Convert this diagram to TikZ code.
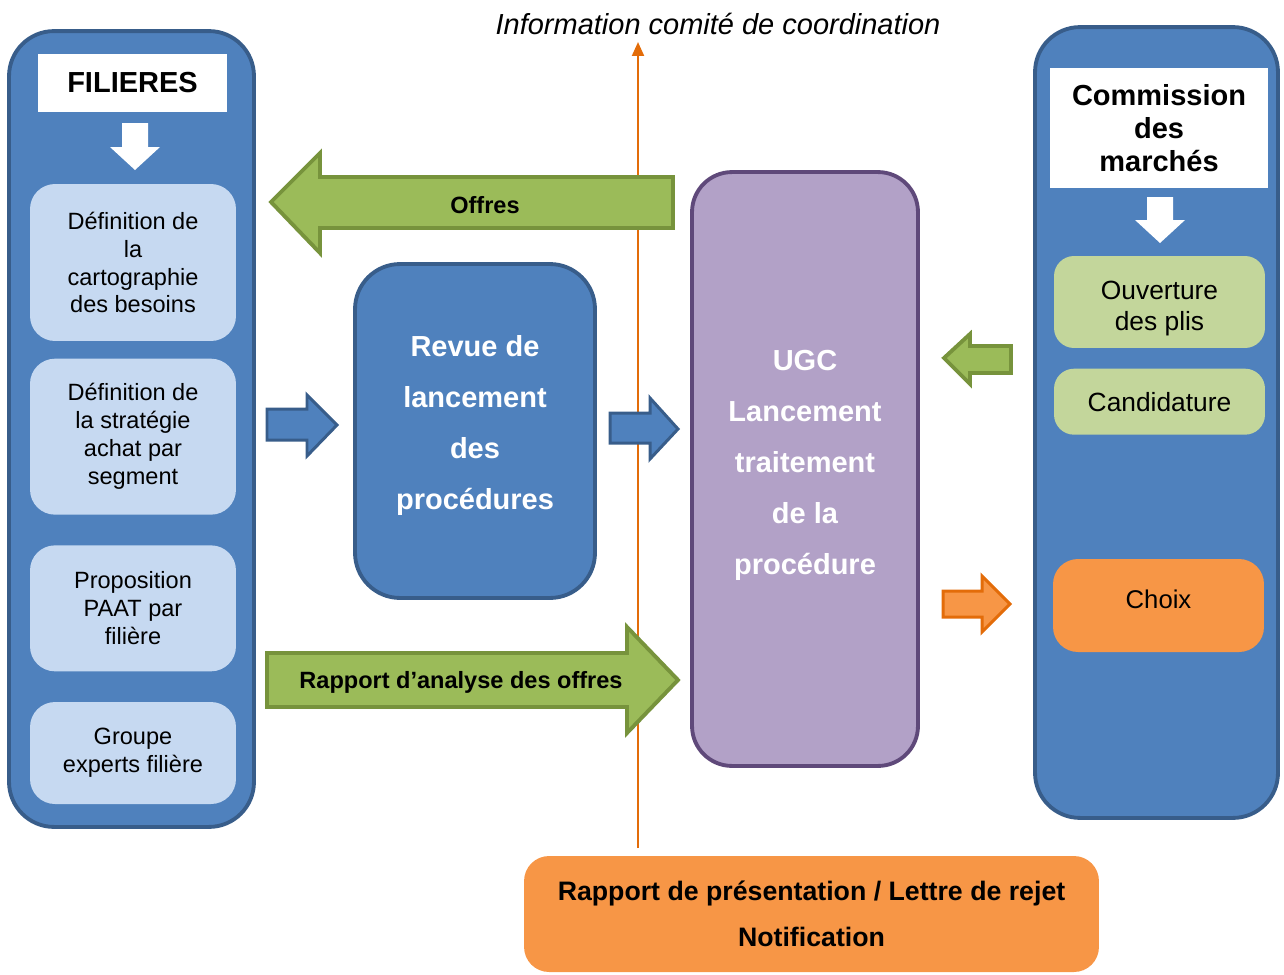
\documentclass[tikz,border=0pt]{standalone}
\usepackage{fontspec}
\setmainfont{Liberation Sans}
\usetikzlibrary{positioning,arrows.meta}
\definecolor{ublue}{HTML}{4F81BD}
\definecolor{ubluedk}{HTML}{385D8A}
\definecolor{lblue}{HTML}{C6D9F1}
\definecolor{ugreen}{HTML}{9BBB59}
\definecolor{ugreendk}{HTML}{77933C}
\definecolor{lgreen}{HTML}{C3D69B}
\definecolor{upurple}{HTML}{B2A1C7}
\definecolor{upurpledk}{HTML}{5F497A}
\definecolor{uorange}{HTML}{F79646}
\definecolor{uorangedk}{HTML}{E36C09}
\tikzset{frame/.style={rectangle, rounded corners=9mm, draw=ubluedk, fill=ublue, line width=2.2pt, inner sep=0pt}}
\tikzset{headbox/.style={rectangle, fill=white, inner sep=0pt, align=center, font=\fontsize{16.5}{18.7}\selectfont\bfseries}}
\tikzset{bigbox/.style={rectangle, line width=2.2pt, inner sep=0pt, align=center, text=white, font=\fontsize{16.5}{29}\selectfont\bfseries}}

\begin{document}
\begin{tikzpicture}[
  x=0.02cm, y=-0.02cm,
  node distance=3mm and 3mm,
  sbox/.style={rectangle, rounded corners=5mm, fill=lblue, inner sep=0pt, minimum width=4.12cm,
               align=center, font=\fontsize{13.4}{15.9}\selectfont},
  gbox/.style={rectangle, rounded corners=4mm, fill=lgreen, inner sep=0pt, minimum width=4.22cm,
               align=center, font=\fontsize{15}{17.6}\selectfont},
  obox/.style={rectangle, rounded corners=5mm, fill=uorange, inner sep=0pt, align=center},
  blockb/.style={fill=ublue, draw=ubluedk, line width=1.7pt},
  blockg/.style={fill=ugreen, draw=ugreendk, line width=2.2pt},
  blocko/.style={fill=uorange, draw=uorangedk, line width=1.7pt},
  wdown/.style={fill=white, draw=none},
  lbl/.style={font=\fontsize{13.4}{16}\selectfont\bfseries},
  infoline/.style={draw=uorangedk, line width=1.2pt, -{Triangle[length=2.8mm, width=2.4mm]}},
]
  \useasboundingbox (0,0) rectangle (1284,974);

  % left column
  \node[frame, minimum width=4.9cm, minimum height=15.92cm] (filieres) at (131.5,429) {};
  \node[headbox, minimum width=3.78cm, minimum height=1.16cm] (filtitle) at (132.5,83) {FILIERES};
  \node[sbox, minimum height=3.14cm] (carto) at (133,262.5) {Définition de\\la\\cartographie\\des besoins};
  \node[sbox, minimum height=3.12cm, below=0.34cm of carto] (strat) {Définition de\\la stratégie\\achat par\\segment};
  \node[sbox, minimum height=2.52cm, below=0.6cm of strat] (paat) {Proposition\\PAAT par\\filière};
  \node[sbox, minimum height=2.04cm, below=0.6cm of paat] (experts) {Groupe\\experts filière};
  \fill[wdown] (122,123) -- (148,123) -- (148,147) -- (160,147) -- (135,170) -- (110,147) -- (122,147) -- cycle;

  % right column
  \node[frame, minimum width=4.86cm, minimum height=15.82cm] (commission) at (1156.5,422.5) {};
  \node[headbox, minimum width=4.36cm, minimum height=2.4cm] (comtitle) at (1159,128) {Commission\\des\\marchés};
  \node[gbox, minimum height=1.84cm, text height=35pt] (plis) at (1159.5,302) {Ouverture\\des plis};
  \node[gbox, minimum height=1.32cm, below=0.4cm of plis] (cand) {Candidature};
  \node[obox, minimum width=4.22cm, minimum height=1.86cm, text depth=6.8pt, font=\fontsize{14.6}{17}\selectfont] (choix) at (1158.5,605.5) {Choix};
  \fill[wdown] (1147,197) -- (1173,197) -- (1173,220) -- (1185,220) -- (1160,243) -- (1135,220) -- (1147,220) -- cycle;

  % middle
  \node[bigbox, rounded corners=9mm, draw=ubluedk, fill=ublue, minimum width=4.8cm, minimum height=6.68cm, text depth=9.7pt] (revue) at (475,431)
    {Revue de\\lancement\\des\\procédures};
  \node[bigbox, rounded corners=8mm, draw=upurpledk, fill=upurple, minimum width=4.52cm, minimum height=11.88cm, text depth=8pt] (ugc) at (805,469)
    {UGC\\Lancement\\traitement\\de la\\procédure};
  \node[obox, minimum width=11.5cm, minimum height=2.32cm, font=\fontsize{15.2}{26}\selectfont\bfseries] (rapport) at (811.5,914)
    {Rapport de présentation / Lettre de rejet\\Notification};
  \node[font=\fontsize{16.5}{19}\selectfont\itshape] (info) at (718,24) {Information comité de coordination};

  \coordinate (lbot) at (638,848);
  \coordinate (ltop) at (638,42);
  \draw[infoline] (lbot) -- (ltop);

  % block arrows
  \draw[blockg] (673,177) -- (320,177) -- (320,153) -- (271,202) -- (320,253) -- (320,228) -- (673,228) -- cycle;
  \node[lbl] (offres) at (485,205) {Offres};
  \draw[blockg] (267,653) -- (627,653) -- (627,627) -- (678,680) -- (627,733) -- (627,707) -- (267,707) -- cycle;
  \node[lbl] (analyse) at (461,682) {Rapport d’analyse des offres};
  \draw[blockb] (267,409) -- (307,409) -- (307,395) -- (337,425) -- (307,456) -- (307,440) -- (267,440) -- cycle;
  \draw[blockb] (610,413) -- (650,413) -- (650,398) -- (678,429) -- (650,459) -- (650,443) -- (610,443) -- cycle;
  \draw[blockg] (1011,346) -- (970,346) -- (970,334) -- (944,358) -- (970,384) -- (970,373) -- (1011,373) -- cycle;
  \draw[blocko] (943,591) -- (982,591) -- (982,576) -- (1010,604) -- (982,632) -- (982,617) -- (943,617) -- cycle;
\end{tikzpicture}
\end{document}
